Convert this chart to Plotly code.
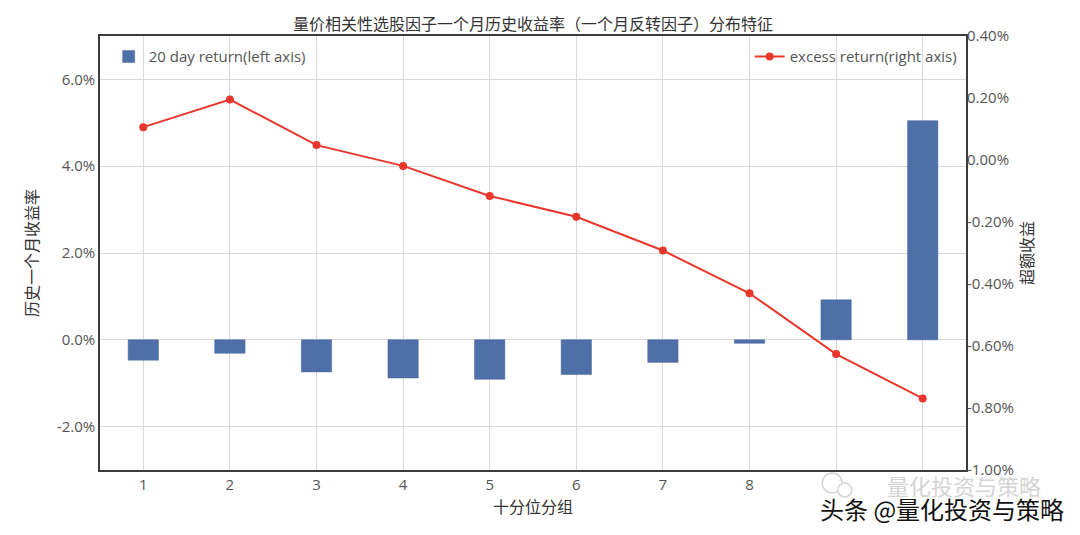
import plotly.graph_objects as go

# decile groups and values
groups = [1, 2, 3, 4, 5, 6, 7, 8, 9, 10]
ret_20d = [-0.47, -0.31, -0.74, -0.88, -0.91, -0.80, -0.52, -0.08, 0.92, 5.05]      # %
excess_ret = [0.106, 0.195, 0.048, -0.019, -0.116, -0.183, -0.292, -0.430, -0.626, -0.769]  # %

left_ticks = [-2, 0, 2, 4, 6]
right_ticks = [-1.0, -0.8, -0.6, -0.4, -0.2, 0.0, 0.2, 0.4]

FONT = "Open Sans, Noto Sans CJK SC"
CJK = "Noto Sans CJK SC"
AXIS_COLOR = "#3c3c3c"
TEXT_COLOR = "#555555"
MARK_GRAY = "#d4d4d4"

fig = go.Figure()

fig.add_trace(go.Bar(
    x=groups, y=ret_20d,
    name="20 day return(left axis)",
    marker=dict(color="#4F6FA8", line=dict(color="#46639a", width=0.5)),
    width=0.35,
    showlegend=True,
    legend="legend",
))

fig.add_trace(go.Scatter(
    x=groups, y=excess_ret,
    mode="lines+markers",
    name="excess return(right axis)",
    yaxis="y2",
    line=dict(color="#E8372C", width=2),
    marker=dict(color="#E8372C", size=8),
    showlegend=True,
    legend="legend2",
))

# the page body adds an 8px offset, margins are trimmed to keep the plot box in place
fig.update_layout(
    width=1080, height=535,
    template="plotly_white",
    paper_bgcolor="white",
    plot_bgcolor="white",
    showlegend=True,
    font=dict(family=FONT, size=15, color=TEXT_COLOR),
    margin=dict(l=92, r=122, t=28, b=73),
    title=dict(
        text="量价相关性选股因子一个月历史收益率（一个月反转因子）分布特征",
        x=0.5, xref="paper", xanchor="center",
        y=1, yref="paper", yanchor="bottom", pad=dict(b=6),
        font=dict(family=CJK, size=16, color="#333333"),
    ),
    xaxis=dict(
        range=[0.5, 10.5],
        tickvals=groups,
        showline=True, linewidth=1.5, linecolor=AXIS_COLOR, mirror=True,
        showgrid=True, gridcolor="#d9d9d9", gridwidth=1,
        zeroline=False,
        ticks="",
        title=dict(text="十分位分组", font=dict(family=CJK, size=16, color="#333333"), standoff=6),
    ),
    yaxis=dict(
        range=[-3, 7],
        tickvals=left_ticks,
        ticktext=[f"{v:.1f}%" for v in left_ticks],
        showline=True, linewidth=1.5, linecolor=AXIS_COLOR, mirror=True,
        showgrid=True, gridcolor="#d9d9d9", gridwidth=1,
        zeroline=False,
        ticks="",
        title=dict(text="历史一个月收益率", font=dict(family=CJK, size=16, color="#333333"), standoff=14),
    ),
    yaxis2=dict(
        range=[-1.0, 0.4],
        tickvals=right_ticks,
        ticktext=[f"{v:.2f}%" for v in right_ticks],
        overlaying="y", side="right",
        showgrid=False, zeroline=False, showline=False,
        ticks="",
        title=dict(text="超额收益", font=dict(family=CJK, size=16, color="#333333"), standoff=4),
    ),
    legend=dict(
        visible=True,
        x=0.01, y=0.99, xanchor="left", yanchor="top",
        bgcolor="rgba(255,255,255,0)", font=dict(size=15, color=TEXT_COLOR),
    ),
    legend2=dict(
        visible=True,
        x=0.995, y=0.99, xanchor="right", yanchor="top",
        bgcolor="rgba(255,255,255,0)", font=dict(size=15, color=TEXT_COLOR),
    ),
)

# watermark patch in the bottom-right corner: it sits over the last two tick labels
fig.add_shape(type="rect", xref="paper", yref="paper",
              x0=0.822, x1=1.097, y0=-0.068, y1=-0.012,
              fillcolor="white", line=dict(width=0), layer="above")
fig.add_shape(type="circle", xref="paper", yref="paper",
              x0=0.834, x1=0.857, y0=-0.053, y1=-0.007,
              fillcolor="white", line=dict(color=MARK_GRAY, width=1.5), layer="above")
fig.add_shape(type="circle", xref="paper", yref="paper",
              x0=0.852, x1=0.868, y0=-0.062, y1=-0.030,
              fillcolor="white", line=dict(color=MARK_GRAY, width=1.5), layer="above")
fig.add_annotation(
    text="量化投资与策略", xref="paper", yref="paper",
    x=1.089, y=-0.035, xanchor="right", yanchor="middle", showarrow=False,
    font=dict(family=CJK, size=22, color=MARK_GRAY),
)
fig.add_annotation(
    text="头条 @量化投资与策略", xref="paper", yref="paper",
    x=1.115, y=-0.088, xanchor="right", yanchor="middle", showarrow=False,
    font=dict(family=CJK, size=24, color="#111111"),
)

fig.write_html("out.html")
